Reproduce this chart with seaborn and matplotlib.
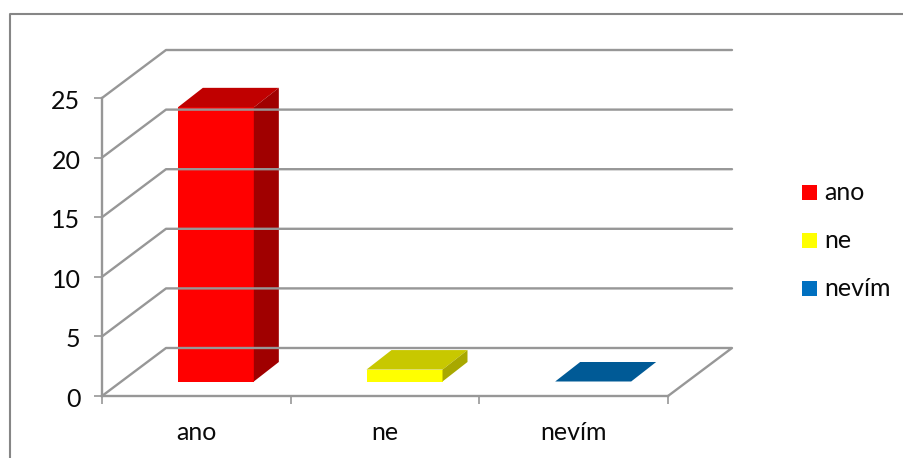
import matplotlib
matplotlib.use("Agg")
import matplotlib.pyplot as plt
from matplotlib.patches import Polygon, Rectangle
from matplotlib.lines import Line2D
from matplotlib.transforms import Affine2D, ScaledTranslation
import seaborn as sns

categories = ["ano", "ne", "nevím"]
values = [23, 1, 0]
y_ticks = [0, 5, 10, 15, 20, 25]

front_colors = ["#FF0000", "#FFFF00", "#0070C0"]
top_colors = ["#C00000", "#C8C800", "#005A96"]
side_colors = ["#A00000", "#A8A800", "#004A80"]

W, H = 904, 458
GRID = "#979797"
TEXT = "#0a0a0a"
FONT = "Lato"
FS = 18
LINE = 1.7

sns.set_theme(style="white")
plt.rcParams["font.family"] = [FONT, "DejaVu Sans"]

fig = plt.figure(figsize=(W / 100, H / 100), dpi=100, facecolor="white")
# Front plane of the 3D box, placed in pixel units
x0, x1, y_base, y_top = 102, 668, 396, 98
ax = fig.add_axes([x0 / W, 1 - y_base / H, (x1 - x0) / W, (y_base - y_top) / H])
ax.set_facecolor("none")

# Outer chart frame: top and left edges only reach the canvas
frame_x, frame_y = 10 / W, 1 - 14 / H
fig.add_artist(Line2D([frame_x, frame_x, 1], [0, frame_y, frame_y],
                      transform=fig.transFigure, color="#868686", lw=1.5, zorder=0.4))

sns.barplot(x=categories, y=values, hue=categories, palette=front_colors,
            width=76 / (566 / 3), dodge=False, legend=False, saturation=1,
            linewidth=0, ax=ax)
ax.set_xlim(-0.5, 2.5)
ax.set_ylim(0, 25)

# Pixel offset (matplotlib y up) from the front plane to the back wall
wall_dx, wall_dy = 64, 48
# Bars stand part-way into the box, with their own depth
bar_dx, bar_dy = 19.5, 14.5
face_dx, face_dy = 25, 19.5

x_l = ax.transData.transform((-0.5, 0))[0]
x_r = ax.transData.transform((2.5, 0))[0]
for t in y_ticks:
    y_px = ax.transData.transform((0, t))[1]
    # Side wall rising to the back wall, then across it
    pts = [(x_l, y_px), (x_l + wall_dx, y_px + wall_dy), (x_r + wall_dx, y_px + wall_dy)]
    if t == 0:
        pts.append((x_r, y_px))
    fig.add_artist(Line2D([p[0] / W for p in pts], [p[1] / H for p in pts],
                          transform=fig.transFigure, color=GRID, lw=LINE, zorder=0.5))

for i, (bar, v) in enumerate(zip(ax.patches, values)):
    bar.set_transform(ax.transData + Affine2D().translate(bar_dx, bar_dy))
    bar.set_zorder(3)
    left, right = bar.get_x(), bar.get_x() + bar.get_width()
    xl, yb = ax.transData.transform((left, 0))
    xr, yt = ax.transData.transform((right, v))
    xl += bar_dx
    xr += bar_dx
    yb += bar_dy
    yt += bar_dy
    face_kw = dict(transform=None, zorder=3, lw=0, clip_on=False)
    ax.add_artist(Polygon([(xl, yt), (xr, yt), (xr + face_dx, yt + face_dy), (xl + face_dx, yt + face_dy)],
                          fc=top_colors[i], **face_kw))
    if v > 0:
        ax.add_artist(Polygon([(xr, yb), (xr + face_dx, yb + face_dy), (xr + face_dx, yt + face_dy), (xr, yt)],
                              fc=side_colors[i], **face_kw))

for s in ["top", "right"]:
    ax.spines[s].set_visible(False)
for s in ["left", "bottom"]:
    ax.spines[s].set_color(GRID)
    ax.spines[s].set_linewidth(LINE)

ax.set_yticks(y_ticks)
ax.set_xticks([-0.5, 0.5, 1.5, 2.5], labels=[])
ax.tick_params(axis="both", length=6, width=1.2, color=GRID, left=True, bottom=True,
               labelsize=FS, labelcolor=TEXT)
ax.tick_params(axis="y", pad=9.5)
# Nudge the value labels slightly below their ticks
nudge = ScaledTranslation(0, -1.5 / 100, fig.dpi_scale_trans)
for lab in ax.get_yticklabels():
    lab.set_transform(lab.get_transform() + nudge)
for i, name in enumerate(categories):
    ax.annotate(name, (i, 0), xycoords=("data", "axes fraction"), xytext=(0, -25),
                textcoords="offset pixels", ha="center", va="top", fontsize=FS, color=TEXT)

# Legend keys and labels
legend_rows = [192.5, 240.5, 288.5]
for name, c, yp in zip(categories, front_colors, legend_rows):
    fig.add_artist(Rectangle((802 / W, 1 - (yp + 7.5) / H), 15 / W, 15 / H,
                             transform=fig.transFigure, fc=c, lw=0))
    fig.text(824 / W, 1 - yp / H, name, fontsize=FS, color=TEXT, va="center", ha="left")

fig.savefig("out.png", dpi=100)
